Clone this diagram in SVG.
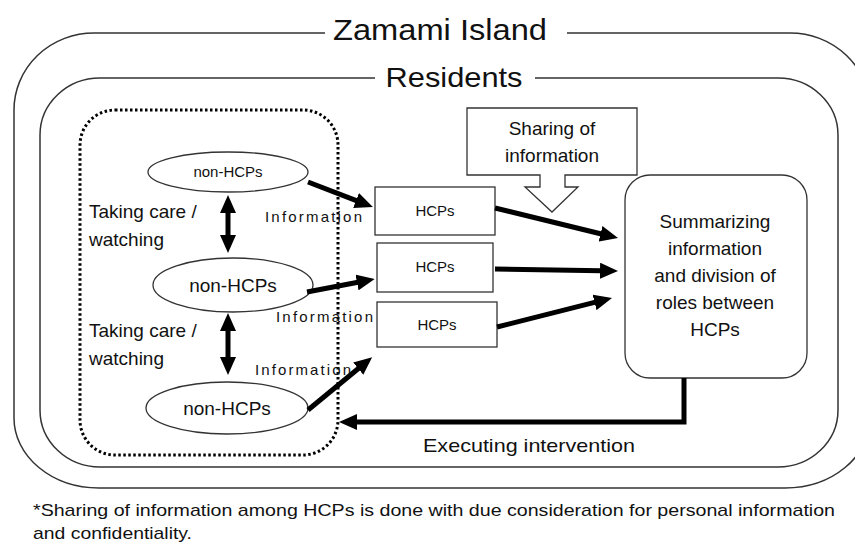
<svg xmlns="http://www.w3.org/2000/svg" width="855" height="543" viewBox="0 0 855 543">
<style>
text{font-family:"Liberation Sans",Arial,sans-serif;fill:#111}
.frame{fill:none;stroke:#333;stroke-width:1.5}
.box{fill:#fff;stroke:#333;stroke-width:1.3}
.arrow{fill:none;stroke:#000;stroke-width:5}
.t19{font-size:19px}
.t15{font-size:15px}
.mid{text-anchor:middle}
</style>
<defs>
<marker id="ah" markerUnits="userSpaceOnUse" markerWidth="18" markerHeight="16" refX="1" refY="8" orient="auto-start-reverse">
<path d="M0,0 L18,8 L0,16 z" fill="#000"/>
</marker>
</defs>
<rect width="855" height="543" fill="#fff"/>

<g id="zamami-island">
<path class="frame" d="M325,33 H94 A80,77 0 0 0 14,110 V418 A85,70 0 0 0 99,488 H785 A85,70 0 0 0 870,418 V110 A80,77 0 0 0 790,33 H567"/>
<text x="440" y="40" font-size="30" class="mid" textLength="214" lengthAdjust="spacingAndGlyphs">Zamami Island</text>
</g>

<g id="residents">
<path class="frame" d="M375,78 H100 A60,57 0 0 0 40,135 V410 A60,57 0 0 0 100,467 H778 A60,57 0 0 0 838,410 V135 A60,57 0 0 0 778,78 H535"/>
<text x="454" y="87" font-size="28" class="mid" textLength="137" lengthAdjust="spacingAndGlyphs">Residents</text>
</g>

<g id="non-hcp-group">
<rect x="80" y="110" width="258" height="345" rx="35" ry="35" fill="none" stroke="#000" stroke-width="3" stroke-dasharray="2.5 2.5"/>
</g>

<g id="nonhcp1">
<ellipse cx="228" cy="172" rx="80" ry="20" class="box"/>
<text x="228" y="177" class="mid" font-size="15">non-HCPs</text>
</g>
<g id="nonhcp2">
<ellipse cx="233" cy="285" rx="80" ry="27" class="box"/>
<text x="233" y="292" class="mid" font-size="19">non-HCPs</text>
</g>
<g id="nonhcp3">
<ellipse cx="227" cy="408" rx="81" ry="26" class="box"/>
<text x="227" y="415" class="mid" font-size="19">non-HCPs</text>
</g>

<g id="hcp1">
<rect x="375" y="187" width="120" height="48" class="box"/>
<text x="435" y="216" class="mid" font-size="15">HCPs</text>
</g>
<g id="hcp2">
<rect x="377" y="243" width="116" height="49" class="box"/>
<text x="435" y="272" class="mid" font-size="15">HCPs</text>
</g>
<g id="hcp3">
<rect x="377" y="302" width="120" height="45" class="box"/>
<text x="437" y="330" class="mid" font-size="15">HCPs</text>
</g>

<g id="sharing">
<path class="box" d="M467,108 H637 V175 H565 V187 H578 L552,212 L525,187 H540 V175 H467 Z"/>
<text x="552" y="135" class="mid t19">Sharing of</text>
<text x="552" y="162" class="mid t19">information</text>
</g>

<g id="summary">
<rect x="625" y="175" width="182" height="203" rx="25" ry="25" class="box"/>
<text x="715" y="228" class="mid t19">Summarizing</text>
<text x="715" y="255" class="mid t19">information</text>
<text x="715" y="282" class="mid t19">and division of</text>
<text x="715" y="309" class="mid t19">roles between</text>
<text x="715" y="336" class="mid t19">HCPs</text>
</g>

<g id="connectors">
<line class="arrow" x1="228" y1="212" x2="228" y2="236" marker-start="url(#ah)" marker-end="url(#ah)"/>
<line class="arrow" x1="228" y1="330" x2="228" y2="358" marker-start="url(#ah)" marker-end="url(#ah)"/>
<line class="arrow" x1="308" y1="182" x2="357" y2="200.8" marker-end="url(#ah)"/>
<line class="arrow" x1="307" y1="292" x2="358" y2="282.3" marker-end="url(#ah)"/>
<line class="arrow" x1="308" y1="410" x2="359" y2="368" marker-end="url(#ah)"/>
<line class="arrow" x1="495" y1="208" x2="601.5" y2="234" marker-end="url(#ah)"/>
<line class="arrow" x1="495" y1="269" x2="601" y2="270.7" marker-end="url(#ah)"/>
<line class="arrow" x1="497" y1="327" x2="595.5" y2="302.2" marker-end="url(#ah)"/>
<path class="arrow" d="M684,378 V422 H356" marker-end="url(#ah)"/>
</g>

<g id="labels">
<text x="89" y="218" class="t19">Taking care /</text>
<text x="89" y="246" class="t19">watching</text>
<text x="89" y="337" class="t19">Taking care /</text>
<text x="89" y="365" class="t19">watching</text>
<text x="265" y="222" class="t15" textLength="97" lengthAdjust="spacing">Information</text>
<text x="276" y="322" class="t15" textLength="97" lengthAdjust="spacing">Information</text>
<text x="255" y="375" class="t15" textLength="96" lengthAdjust="spacing">Information</text>
<text x="529" y="452" class="mid t19" textLength="212" lengthAdjust="spacingAndGlyphs">Executing intervention</text>
</g>

<g id="footnote">
<text x="33" y="516" font-size="17" textLength="802" lengthAdjust="spacingAndGlyphs">*Sharing of information among HCPs is done with due consideration for personal information</text>
<text x="33" y="539" font-size="17" textLength="159" lengthAdjust="spacingAndGlyphs">and confidentiality.</text>
</g>
</svg>
